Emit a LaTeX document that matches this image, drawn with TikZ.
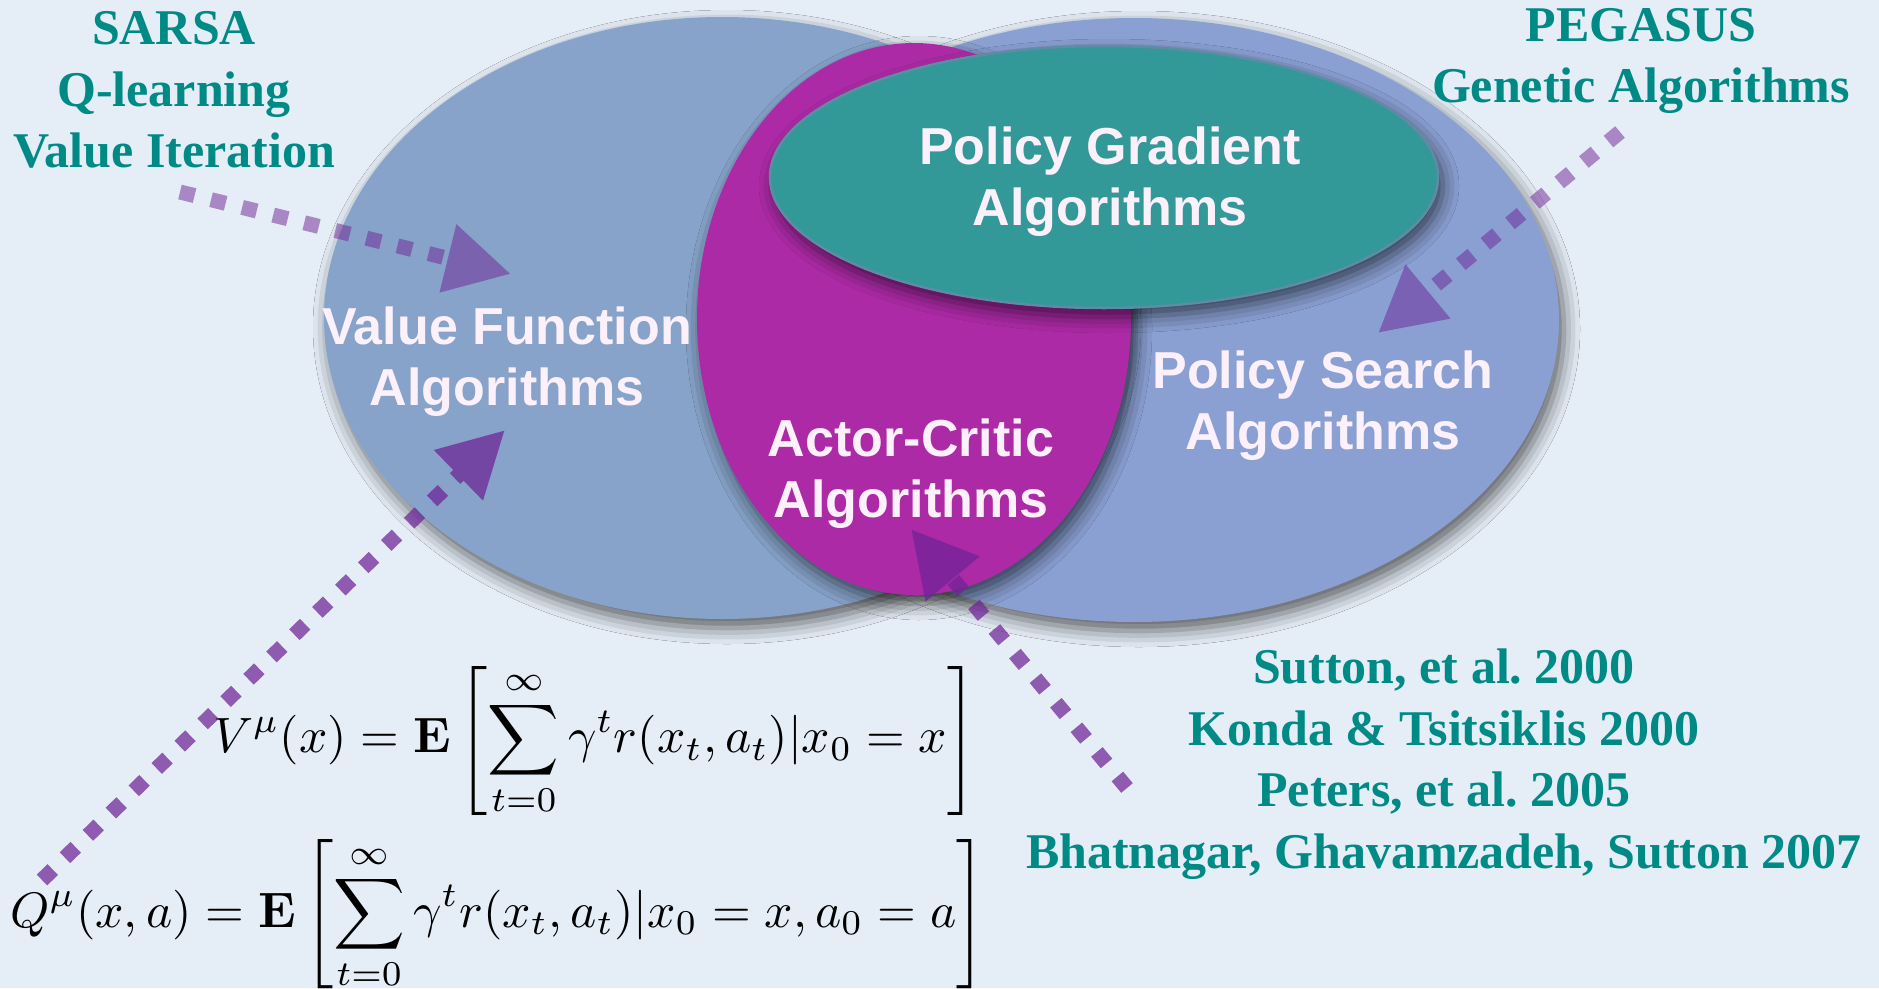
\documentclass[tikz,border=0pt]{standalone}
\usepackage[no-math]{fontspec}
\usepackage{graphicx}
\setmainfont{Liberation Serif}
\newfontfamily\labelfont{Liberation Sans}
\usetikzlibrary{arrows.meta,shadows.blur}

\definecolor{bgpaper}{RGB}{229,237,246}
\definecolor{vfblue}{RGB}{135,163,201}
\definecolor{psblue}{RGB}{138,160,210}
\definecolor{acmag}{RGB}{172,42,166}
\definecolor{pgteal}{RGB}{51,152,152}
\definecolor{pgedge}{RGB}{95,140,165}
\definecolor{labelwhite}{RGB}{252,240,250}
\definecolor{refteal}{RGB}{0,138,134}
\definecolor{arrowpurple}{RGB}{110,35,150}

\tikzset{
  vennshadow/.style={blur shadow={shadow xshift=5pt, shadow yshift=-9pt,
      shadow blur radius=16pt, shadow opacity=60}},
  vennlabel/.style={font=\labelfont\bfseries\fontsize{52}{61}\selectfont,
      text=labelwhite, align=center, inner sep=0pt},
  reflabel/.style={font=\bfseries\fontsize{50}{61.5}\selectfont,
      text=refteal, align=center, inner sep=0pt},
  flow/.style={arrowpurple, line width=15pt, dash pattern=on 15pt off 17pt,
      -{Triangle[length=65pt,width=66pt]}},
  eqn/.style={anchor=west, inner sep=0pt}
}

\begin{document}
\begin{tikzpicture}[x=1pt,y=-1pt]
\useasboundingbox (0,0) rectangle (1879,988);
\fill[bgpaper] (0,0) rectangle (1879,988);

% overlapping algorithm families
\fill[psblue, vennshadow] (1134,320) ellipse [x radius=425, y radius=302];
\fill[vfblue, vennshadow] (722,318) ellipse [x radius=398, y radius=301];
\fill[acmag, vennshadow] (914,319) ellipse [x radius=217, y radius=276];
\filldraw[fill=pgteal, draw=pgedge, line width=2.5pt, vennshadow]
  (1104,177) ellipse [x radius=334, y radius=131];

% family names
\node[vennlabel] (vf) at (507,362) {Value Function\\Algorithms};
\node[vennlabel] (pg) at (1110,182) {Policy Gradient\\Algorithms};
\node[vennlabel] (ps) at (1323,406) {Policy Search\\Algorithms};
\node[vennlabel] (ac) at (911,474) {Actor-Critic\\Algorithms};

% representative methods and references
\node[reflabel] (vfref) at (174,90) {SARSA\\Q-learning\\Value Iteration};
\node[reflabel] (psref) at (1641,61) {PEGASUS\\Genetic Algorithms};
\node[reflabel] (acref) at (1444,764) {Sutton, et al.\ 2000\\Konda \& Tsitsiklis 2000\\Peters, et al.\ 2005\\Bhatnagar, Ghavamzadeh, Sutton 2007};

% value functions
\node[eqn] (veq) at (213,741) {\resizebox{763pt}{!}{$\displaystyle V^{\mu}(x) = \mathbf{E}\left[\sum_{t=0}^{\infty}\gamma^{t} r(x_t,a_t)|x_0 = x\right]$}};
\node[eqn] (qeq) at (10,915) {\resizebox{975pt}{!}{$\displaystyle Q^{\mu}(x,a) = \mathbf{E}\left[\sum_{t=0}^{\infty}\gamma^{t} r(x_t,a_t)|x_0 = x, a_0 = a\right]$}};

% arrow end points
\coordinate (vfTail) at (180,192);
\coordinate (vfTip) at (511,274);
\coordinate (psTail) at (1620,132);
\coordinate (psTip) at (1378,333);
\coordinate (qTail) at (42,880);
\coordinate (qTip) at (505,430);
\coordinate (acTail) at (1127,788);
\coordinate (acTip) at (911,529);

\begin{scope}[transparency group, opacity=0.5]
  \draw[flow] (vfTail) -- (vfTip);
\end{scope}
\begin{scope}[transparency group, opacity=0.5]
  \draw[flow] (psTail) -- (psTip);
\end{scope}
\begin{scope}[transparency group, opacity=0.72]
  \draw[flow] (qTail) -- (qTip);
\end{scope}
\begin{scope}[transparency group, opacity=0.72]
  \draw[flow] (acTail) -- (acTip);
\end{scope}
\end{tikzpicture}
\end{document}
